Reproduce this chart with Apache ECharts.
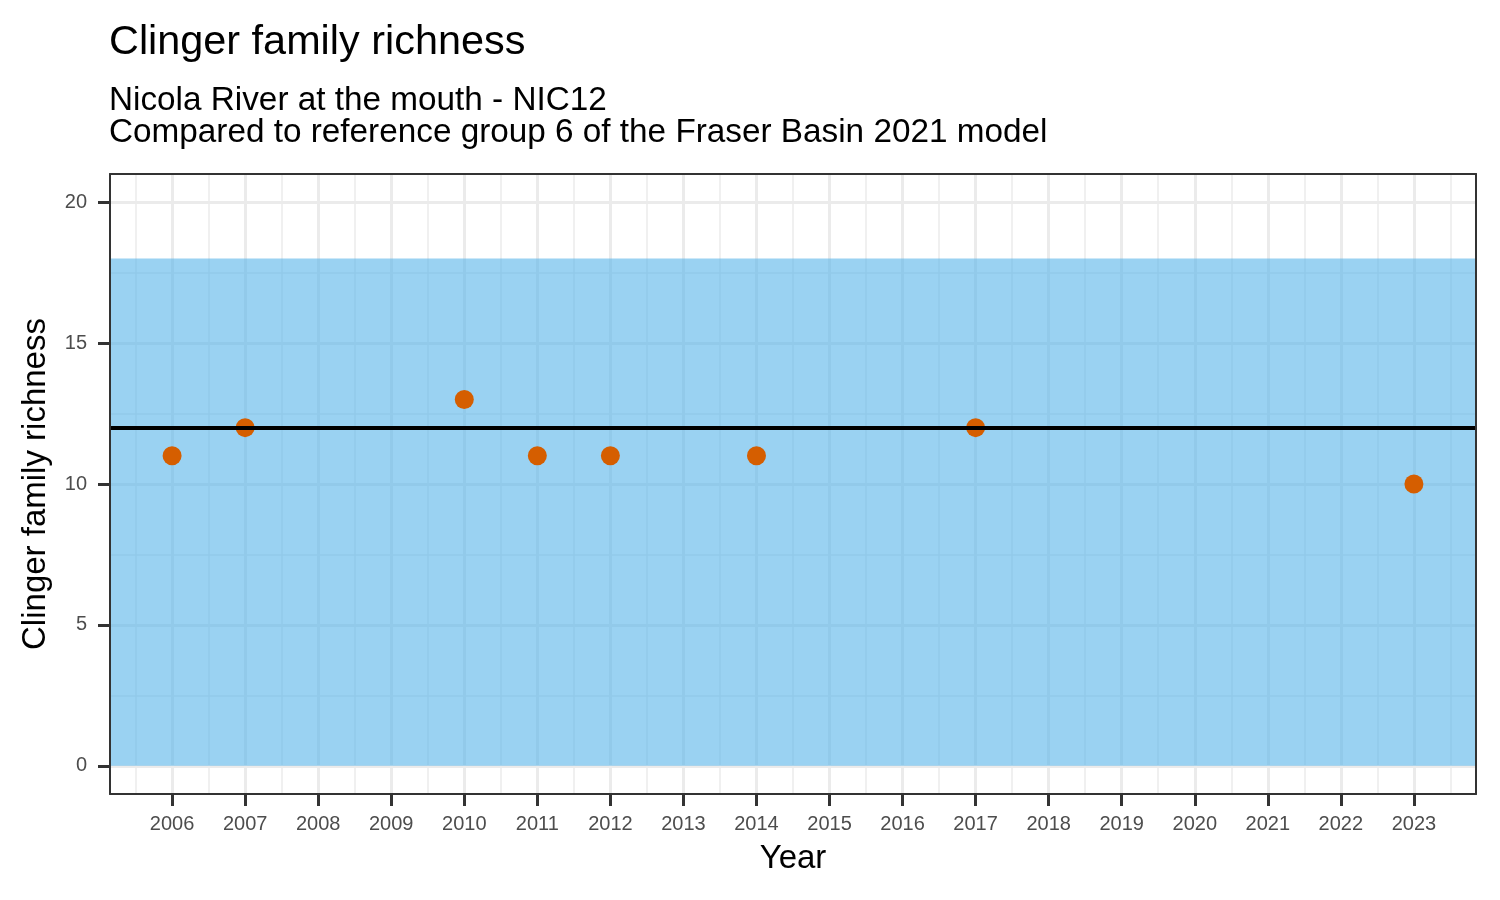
<!DOCTYPE html>
<html>
<head>
<meta charset="utf-8">
<script src="https://cdn.jsdelivr.net/npm/echarts@6/dist/echarts.min.js"></script>
<style>
  html, body { margin: 0; padding: 0; background: #ffffff; }
  #chart { width: 1500px; height: 900px; }
</style>
</head>
<body>
<div id="chart"></div>
<script>
// ---- data ----
const years = [2006, 2007, 2010, 2011, 2012, 2014, 2017, 2023];
const richness = [11, 12, 13, 11, 11, 11, 12, 10];
const referenceBand = [0, 18];
const referenceMedian = 12;

// ---- axis ticks ----
const xTicks = [2006, 2007, 2008, 2009, 2010, 2011, 2012, 2013, 2014, 2015, 2016, 2017, 2018, 2019, 2020, 2021, 2022, 2023];
const xMinorTicks = [2005.5, 2006.5, 2007.5, 2008.5, 2009.5, 2010.5, 2011.5, 2012.5, 2013.5, 2014.5, 2015.5, 2016.5, 2017.5, 2018.5, 2019.5, 2020.5, 2021.5, 2022.5, 2023.5];
const yTicks = [0, 5, 10, 15, 20];
const yMinorTicks = [2.5, 7.5, 12.5, 17.5];
const xRange = [2005.15, 2023.85];
const yRange = [-1, 21];

const titleText = 'Clinger family richness';
const subtitleLines = ['Nicola River at the mouth - NIC12', 'Compared to reference group 6 of the Fraser Basin 2021 model'];
const xTitle = 'Year';
const yTitle = 'Clinger family richness';

const FONT = '"Liberation Sans", Arial, Helvetica, sans-serif';
const points = years.map((y, i) => [y, richness[i]]);

function gridAxis(dim, ticks, width, position) {
  return {
    type: 'value', position: position,
    min: dim === 'x' ? xRange[0] : yRange[0],
    max: dim === 'x' ? xRange[1] : yRange[1],
    axisLine: { show: false, onZero: false },
    axisTick: { show: false, customValues: ticks },
    axisLabel: { show: false, customValues: ticks },
    splitLine: { show: true, lineStyle: { color: '#EBEBEB', width: width } },
    z: 0
  };
}

const chart = echarts.init(document.getElementById('chart'), null, { renderer: 'canvas' });
chart.setOption({
  animation: false,
  backgroundColor: '#ffffff',
  textStyle: { fontFamily: FONT },
  title: [
    { text: titleText, left: 104, top: 17,
      textStyle: { fontFamily: FONT, fontSize: 41.4, fontWeight: 'normal', color: '#000000' } },
    { text: subtitleLines.join('\n'), left: 104, top: 80,
      textStyle: { fontFamily: FONT, fontSize: 33.3, lineHeight: 32, fontWeight: 'normal', color: '#000000' } }
  ],
  grid: { left: 110, right: 24, top: 174, bottom: 106, containLabel: false },
  xAxis: [
    { // frame bottom with labels
      type: 'value', position: 'bottom', min: xRange[0], max: xRange[1],
      name: xTitle, nameLocation: 'middle', nameGap: 48,
      nameTextStyle: { fontFamily: FONT, fontSize: 33, color: '#000000' },
      axisLine: { show: true, onZero: false, lineStyle: { color: '#333333', width: 2 } },
      axisTick: { show: true, inside: false, length: 12, customValues: xTicks, lineStyle: { color: '#333333', width: 3 } },
      axisLabel: { show: true, customValues: xTicks, margin: 20, fontFamily: FONT, fontSize: 20, color: '#4D4D4D',
                   formatter: v => String(v) },
      splitLine: { show: false },
      z: 5
    },
    { // frame top
      type: 'value', position: 'top', min: xRange[0], max: xRange[1],
      axisLine: { show: true, onZero: false, lineStyle: { color: '#333333', width: 2 } },
      axisTick: { show: false }, axisLabel: { show: false }, splitLine: { show: false },
      z: 5
    },
    gridAxis('x', xTicks, 3, 'bottom'),
    gridAxis('x', xMinorTicks, 1.5, 'bottom')
  ],
  yAxis: [
    { // frame left with labels
      type: 'value', position: 'left', min: yRange[0], max: yRange[1],
      name: yTitle, nameLocation: 'middle', nameGap: 58, nameRotate: 90,
      nameTextStyle: { fontFamily: FONT, fontSize: 33, color: '#000000' },
      axisLine: { show: true, onZero: false, lineStyle: { color: '#333333', width: 2 } },
      axisTick: { show: true, inside: false, length: 12, customValues: yTicks, lineStyle: { color: '#333333', width: 3 } },
      axisLabel: { show: true, customValues: yTicks, margin: 23, fontFamily: FONT, fontSize: 20, color: '#4D4D4D',
                   formatter: v => String(v) },
      splitLine: { show: false },
      z: 5
    },
    { // frame right
      type: 'value', position: 'right', min: yRange[0], max: yRange[1],
      axisLine: { show: true, onZero: false, lineStyle: { color: '#333333', width: 2 } },
      axisTick: { show: false }, axisLabel: { show: false }, splitLine: { show: false },
      z: 5
    },
    gridAxis('y', yTicks, 3, 'left'),
    gridAxis('y', yMinorTicks, 1.5, 'left')
  ],
  series: [
    { // reference band
      type: 'line', name: 'band', xAxisIndex: 0, yAxisIndex: 0, z: 1,
      data: points, showSymbol: false, silent: true,
      lineStyle: { opacity: 0, width: 0 },
      markArea: {
        silent: true,
        itemStyle: { color: 'rgba(86,180,233,0.6)', borderWidth: 0 },
        label: { show: false },
        data: [[{ yAxis: referenceBand[0] }, { yAxis: referenceBand[1] }]]
      }
    },
    { // median line
      type: 'line', name: 'median', xAxisIndex: 0, yAxisIndex: 0, z: 2,
      data: points, showSymbol: false, silent: true,
      lineStyle: { opacity: 0, width: 0 },
      markLine: {
        silent: true, symbol: ['none', 'none'],
        label: { show: false },
        lineStyle: { color: '#000000', width: 4, type: 'solid' },
        data: [{ yAxis: referenceMedian }]
      }
    },
    { // observations
      type: 'scatter', name: 'richness', xAxisIndex: 0, yAxisIndex: 0, z: 3,
      data: points, symbol: 'circle', symbolSize: 19,
      itemStyle: { color: '#D55E00', opacity: 1 }
    }
  ]
});
</script>
</body>
</html>
